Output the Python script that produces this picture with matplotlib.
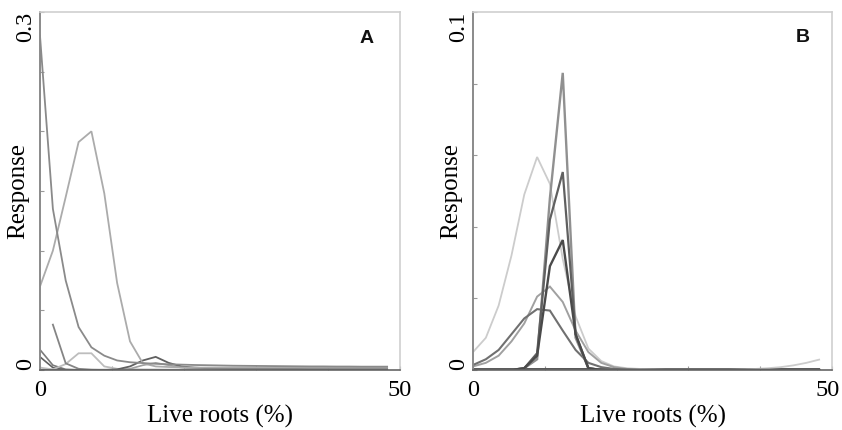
import numpy as np
import matplotlib
matplotlib.use("Agg")
import matplotlib.pyplot as plt
import matplotlib.transforms as mtransforms

# x grid (Live roots %)
X = [0, 1.79, 3.57, 5.36, 7.14, 8.93, 10.71, 12.5, 14.29, 16.07, 17.86, 19.64,
     21.43, 23.21, 25.0, 26.79, 28.57, 30.36, 32.14, 33.93, 35.71, 37.5, 39.29,
     41.07, 42.86, 44.64, 46.43, 48.21]

# Panel A response curves
A_decay = [0.28, 0.135, 0.075, 0.036, 0.019, 0.012, 0.008, 0.0065, 0.0058, 0.0052,
           0.0048, 0.0045, 0.0042, 0.004, 0.0038, 0.0036, 0.0035, 0.0034, 0.0033,
           0.0032, 0.0031, 0.003, 0.003, 0.0029, 0.0029, 0.0028, 0.0028, 0.0028]
A_peak = [0.07, 0.10, 0.145, 0.191, 0.200, 0.148, 0.073, 0.024, 0.0056, 0.003,
          0.0025, 0.0022, 0.002, 0.002, 0.002, 0.002, 0.002, 0.002, 0.002, 0.002,
          0.002, 0.002, 0.002, 0.002, 0.002, 0.002, 0.002, 0.002]
A_spike = [np.nan, 0.038, 0.0056, 0.001, 0.0002, 0, 0, 0, 0, 0, 0, 0, 0, 0, 0, 0,
           0, 0, 0, 0, 0, 0, 0, 0, 0, 0, 0, 0]
A_light = [0.002, 0.0005, 0.005, 0.014, 0.014, 0.003, 0.001, 0.0005, 0.0003, 0.0002,
           0.0001, 0.0001, 0, 0, 0, 0, 0, 0, 0, 0, 0, 0, 0, 0, 0, 0, 0, 0]
A_start1 = [0.017, 0.004, 0.0005, 0, 0, 0, 0, 0, 0, 0, 0, 0, 0, 0, 0, 0, 0, 0, 0,
            0, 0, 0, 0, 0, 0, 0, 0, 0]
A_start2 = [0.011, 0.002, 0, 0, 0, 0, 0, 0, 0, 0, 0, 0, 0, 0, 0, 0, 0, 0, 0, 0, 0,
            0, 0, 0, 0, 0, 0, 0]
A_hump1 = [0, 0, 0, 0, 0, 0, 0.0005, 0.003, 0.008, 0.011, 0.006, 0.003, 0.002,
           0.0015, 0.0012, 0.001, 0.001, 0.001, 0.001, 0.0009, 0.0009, 0.0008,
           0.0008, 0.0008, 0.0008, 0.0008, 0.0008, 0.0008]
A_hump2 = [0, 0, 0, 0, 0, 0, 0, 0.001, 0.004, 0.006, 0.004, 0.002, 0.001, 0.0008,
           0.0006, 0.0005, 0.0005, 0.0005, 0.0005, 0.0005, 0.0005, 0.0005, 0.0005,
           0.0005, 0.0005, 0.0005, 0.0005, 0.0005]
A_base = [0.0003] * 28

# Panel B response curves
B_tall = [0, 0, 0, 0, 0.0005, 0.003, 0.048, 0.083, 0.009, 0.0005, 0, 0, 0, 0, 0,
          0, 0, 0, 0, 0, 0, 0, 0, 0, 0, 0, 0, 0]
B_mid = [0, 0, 0, 0, 0.0005, 0.0047, 0.042, 0.0553, 0.010, 0.0005, 0, 0, 0, 0, 0,
         0, 0, 0, 0, 0, 0, 0, 0, 0, 0, 0, 0, 0]
B_low = [0, 0, 0, 0, 0.0005, 0.004, 0.029, 0.0363, 0.010, 0.0005, 0, 0, 0, 0, 0,
         0, 0, 0, 0, 0, 0, 0, 0, 0, 0, 0, 0, 0]
B_light = [0.005, 0.009, 0.018, 0.032, 0.049, 0.0595, 0.052, 0.031, 0.015, 0.006,
           0.0025, 0.001, 0.0005, 0.0003, 0.0002, 0.0001, 0.0001, 0.0001, 0.0001,
           0.0001, 0.0001, 0.0002, 0.0003, 0.0005, 0.0008, 0.0013, 0.002, 0.0029]
B_bell1 = [0.001, 0.002, 0.004, 0.008, 0.013, 0.0205, 0.0233, 0.019, 0.011, 0.005,
           0.002, 0.0008, 0.0003, 0.0001, 0, 0, 0, 0, 0, 0, 0, 0, 0, 0, 0, 0, 0, 0]
B_bell2 = [0.0014, 0.003, 0.0056, 0.010, 0.0144, 0.017, 0.0166, 0.011, 0.0056,
           0.002, 0.0008, 0.0003, 0.0001, 0, 0, 0, 0, 0, 0, 0, 0, 0, 0, 0, 0, 0, 0, 0]
B_base = [0.0002] * 28

serif = ["Liberation Serif", "DejaVu Serif"]

fig = plt.figure(figsize=(8.42, 4.30), dpi=100)
axA = fig.add_axes([40 / 842, 60 / 430, 360 / 842, 358 / 430])
axB = fig.add_axes([473 / 842, 60 / 430, 359 / 842, 358 / 430])

x = np.array(X)
A_styles = [
    (A_base, "#454545", 1.6),
    (A_start1, "#7a7a7a", 1.2),
    (A_start2, "#606060", 1.2),
    (A_light, "#bdbdbd", 1.3),
    (A_spike, "#858585", 1.3),
    (A_hump2, "#a0a0a0", 1.2),
    (A_hump1, "#606060", 1.3),
    (A_peak, "#ababab", 1.3),
    (A_decay, "#8a8a8a", 1.3),
]
for ys, c, lw in A_styles:
    axA.plot(x, np.array(ys, dtype=float), color=c, lw=lw, solid_joinstyle="miter")

B_styles = [
    (B_base, "#555555", 1.4),
    (B_light, "#cccccc", 1.3),
    (B_bell1, "#a0a0a0", 1.4),
    (B_bell2, "#707070", 1.5),
    (B_tall, "#909090", 1.7),
    (B_mid, "#606060", 1.6),
    (B_low, "#4a4a4a", 1.7),
]
for ys, c, lw in B_styles:
    axB.plot(x, np.array(ys, dtype=float), color=c, lw=lw, solid_joinstyle="miter")

def style(ax, ymax, ystep, letter, lx, ly, shift_last=0):
    ax.set_xlim(0, 50)
    ax.set_ylim(0, ymax)
    xt = [0, 10, 20, 30, 40, 50]
    ax.set_xticks(xt)
    ax.set_xticklabels(["0", "", "", "", "", "50"])
    yt = list(np.round(np.arange(0, ymax + ystep / 2, ystep), 4))
    ax.set_yticks(yt)
    ylabels = [""] * len(yt)
    ylabels[0] = "0"
    ylabels[-1] = f"{ymax:g}"
    ax.set_yticklabels(ylabels)
    ax.tick_params(direction="in", length=3, width=0.8, color="#9a9a9a",
                   labelsize=17.5)
    ax.tick_params(axis="x", pad=7)
    ax.tick_params(axis="y", pad=3)
    xlabs = ax.get_xticklabels()
    for lab in xlabs:
        lab.set_fontfamily(serif)
    if shift_last:
        off = mtransforms.ScaledTranslation(shift_last / 100, 0, fig.dpi_scale_trans)
        xlabs[-1].set_transform(xlabs[-1].get_transform() + off)
    ylabs = ax.get_yticklabels()
    for i, lab in enumerate(ylabs):
        lab.set_fontfamily(serif)
        lab.set_rotation(90)
        lab.set_va("bottom" if i == 0 else "top")
        lab.set_ha("right")
    for s in ["top", "right"]:
        ax.spines[s].set_color("#cfcfcf")
        ax.spines[s].set_linewidth(1.2)
    ax.spines["left"].set_color("#8a8a8a")
    ax.spines["left"].set_linewidth(1.4)
    ax.spines["bottom"].set_color("#666666")
    ax.spines["bottom"].set_linewidth(1.2)
    ax.set_xlabel("Live roots (%)", fontfamily=serif, fontsize=18, labelpad=3)
    ax.set_ylabel("Response", fontfamily=serif, fontsize=18)
    ax.yaxis.set_label_coords(-0.03, 0.5)
    ax.text(lx, ly, letter, transform=ax.transAxes,
            fontfamily=["Liberation Sans", "DejaVu Sans"],
            fontweight="bold", fontsize=14, ha="center", va="center", color="#111111")

style(axA, 0.3, 0.05, "A", 0.908, 0.927)
style(axB, 0.1, 0.02, "B", 0.919, 0.93, shift_last=-4)

fig.savefig("out.png", dpi=100)
